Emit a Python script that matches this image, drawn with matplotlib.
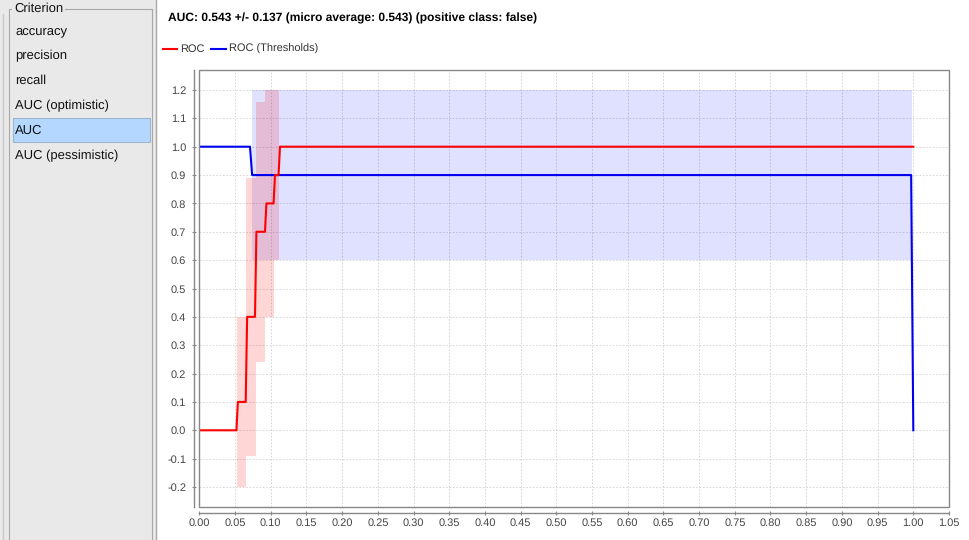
import matplotlib
matplotlib.use('Agg')
import matplotlib.pyplot as plt
from matplotlib.patches import Rectangle
from matplotlib.lines import Line2D

# ROC curve (mean) and its std band
roc_x = [0.0, 0.052, 0.054, 0.065, 0.067, 0.078, 0.080, 0.092, 0.094, 0.104, 0.106, 0.111, 0.113, 1.0]
roc_y = [0.0, 0.0, 0.1, 0.1, 0.4, 0.4, 0.7, 0.7, 0.8, 0.8, 0.9, 0.9, 1.0, 1.0]
roc_band_x = [0.053, 0.066, 0.079, 0.092, 0.1045, 0.112]
roc_band_lo = [-0.2, -0.09, 0.241, 0.4, 0.6]
roc_band_hi = [0.4, 0.89, 1.159, 1.2, 1.2]

# ROC (Thresholds) curve and its std band
thr_x = [0.0, 0.071, 0.074, 0.997, 1.0]
thr_y = [1.0, 1.0, 0.9, 0.9, 0.0]
thr_band_x = [0.0733, 0.998]
thr_band_lo = [0.6, 0.6]
thr_band_hi = [1.2, 1.2]

criteria = ['accuracy', 'precision', 'recall', 'AUC (optimistic)', 'AUC', 'AUC (pessimistic)']
selected = 'AUC'
title = 'AUC: 0.543 +/- 0.137 (micro average: 0.543) (positive class: false)'

W, H = 970, 540
plt.rcParams['font.family'] = ['Liberation Sans', 'DejaVu Sans']
plt.rcParams['text.hinting'] = 'no_hinting'
plt.rcParams['text.hinting_factor'] = 1
fig = plt.figure(figsize=(W / 100, H / 100), dpi=100)
fig.patch.set_facecolor('white')


def fx(px):
    return px / W


def fy(py):
    return 1 - py / H


# ---- left panel ----
fig.patches.append(Rectangle((0, 0), fx(156), 1, transform=fig.transFigure,
                             facecolor='#e9e9e9', edgecolor='none', zorder=0))
fig.lines.append(Line2D([fx(155.5), fx(155.5)], [0, 1], transform=fig.transFigure,
                        color='#a8a8a8', lw=1))
fig.lines.append(Line2D([fx(3), fx(3)], [0, fy(14)], transform=fig.transFigure,
                        color='#c8c8c8', lw=1))
# group box
fig.lines.append(Line2D([fx(9.5), fx(9.5), fx(152.5), fx(152.5)], [0, fy(8.5), fy(8.5), 0],
                        transform=fig.transFigure, color='#a8a8a8', lw=0.8))
fig.text(fx(14), fy(8.5), 'Criterion', fontsize=9, color='#111111', va='center', ha='left',
         bbox=dict(facecolor='#e9e9e9', edgecolor='none', pad=1.2))
fig.patches.append(Rectangle((fx(13), fy(142)), fx(150) - fx(13), fy(118) - fy(142),
                             transform=fig.transFigure, facecolor='#b3d7ff',
                             edgecolor='#9cb4cc', lw=0.8))
for i, name in enumerate(criteria):
    fig.text(fx(15), fy(31 + i * 25), name, fontsize=9, color='#111111', va='center', ha='left')

# ---- title and legend ----
fig.text(fx(168), fy(18), title, fontsize=8.55, fontweight='bold', va='center', ha='left')
fig.lines.append(Line2D([fx(163), fx(177)], [fy(49), fy(49)], transform=fig.transFigure,
                        color='red', lw=1.5))
fig.text(fx(180), fy(49), 'ROC', fontsize=7.8, color='#333333', va='center', ha='left')
fig.lines.append(Line2D([fx(211), fx(226)], [fy(49), fy(49)], transform=fig.transFigure,
                        color='#0000ee', lw=1.5))
fig.text(fx(229), fy(49), 'ROC (Thresholds)', fontsize=7.8, color='#333333', va='center', ha='left')

# ---- plot ----
ax = fig.add_axes([fx(199.3), fy(507), fx(949) - fx(199.3), fy(70) - fy(507)])
ax.fill_between(thr_band_x, thr_band_lo, thr_band_hi, step='post',
                color='#0000ff', alpha=0.12, lw=0, zorder=1)
ax.fill_between(roc_band_x, roc_band_lo + [roc_band_lo[-1]], roc_band_hi + [roc_band_hi[-1]],
                step='post', color='#ff0000', alpha=0.16, lw=0, zorder=2)
ax.plot(thr_x, thr_y, color='#0000ee', lw=1.5, zorder=3)
ax.plot(roc_x, roc_y, color='#ff0000', lw=1.5, zorder=4)

ax.set_xlim(0, 1.05)
ax.set_ylim(-0.2705, 1.2705)
ax.set_xticks([i * 0.05 for i in range(22)])
ax.set_yticks([-0.2 + i * 0.1 for i in range(15)])
ax.set_xticklabels(['%.2f' % (i * 0.05) for i in range(22)])
ax.set_yticklabels(['%.1f' % (-0.2 + i * 0.1) for i in range(15)])
ax.grid(True, color='#d0d0d0', linestyle=(0, (2, 2)), lw=0.6)
ax.set_axisbelow(True)

# frame + offset axes
for s in ['top', 'right']:
    ax.spines[s].set_visible(False)
for s in ['left', 'bottom']:
    ax.spines[s].set_position(('outward', 4))
    ax.spines[s].set_color('#888888')
    ax.spines[s].set_linewidth(1)
ax.add_patch(Rectangle((0, 0), 1, 1, transform=ax.transAxes, fill=False,
                       edgecolor='#888888', lw=1, clip_on=False, zorder=5))
ax.tick_params(direction='inout', length=3, width=0.8, color='#888888',
               labelsize=7.7, labelcolor='#444444')
ax.tick_params(axis='y', pad=4)
ax.tick_params(axis='x', pad=2.5)

fig.savefig('out.png', dpi=100)
